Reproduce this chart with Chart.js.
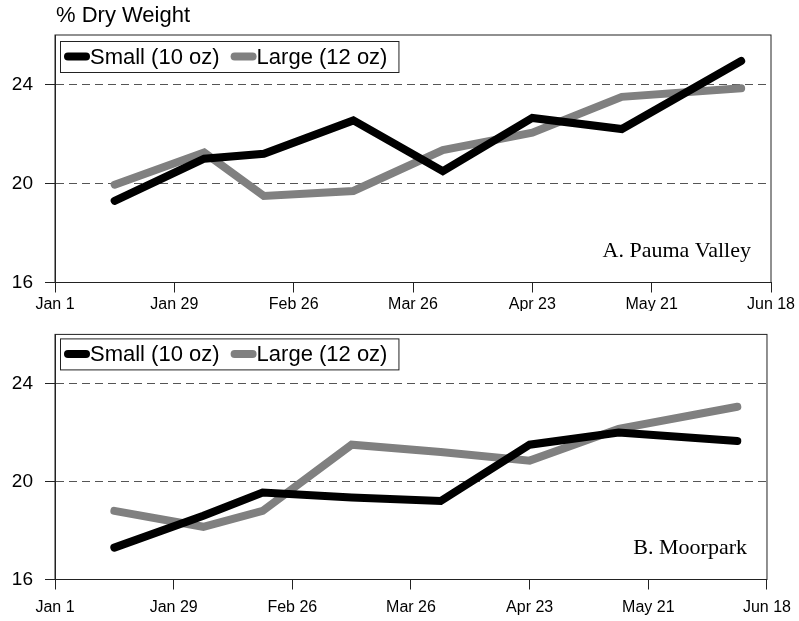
<!DOCTYPE html>
<html>
<head>
<meta charset="utf-8" />
<title>% Dry Weight</title>
<script src="https://cdn.jsdelivr.net/npm/chart.js@4.4.1/dist/chart.umd.min.js"></script>
<style>
  body { margin: 0; padding: 0; background: #fff; overflow: hidden; }
  .panel { position: absolute; left: 0; width: 799px; }
  #panelA { top: 0; height: 311px; }
  #panelB { top: 311px; height: 310px; }
</style>
</head>
<body>
<div class="panel" id="panelA"><canvas id="chartA"></canvas></div>
<div class="panel" id="panelB"><canvas id="chartB"></canvas></div>

<script>
// sample dates, as days after Jan 1
var sampleDays = [14, 35, 49, 70, 91, 112, 133, 161];
var tickDays = [0, 28, 56, 84, 112, 140, 168];
var tickLabels = ['Jan 1', 'Jan 29', 'Feb 26', 'Mar 26', 'Apr 23', 'May 21', 'Jun 18'];
var yTicks = [16, 20, 24];

var seriesNames = ['Small (10 oz)', 'Large (12 oz)'];

// A. Pauma Valley
var paumaSmall = [19.3, 21.0, 21.2, 22.55, 20.5, 22.65, 22.2, 24.95];
var paumaLarge = [19.95, 21.25, 19.5, 19.7, 21.35, 22.05, 23.5, 23.85];

// B. Moorpark
var moorSmall = [17.3, 18.6, 19.55, 19.35, 19.2, 21.5, 22.0, 21.65];
var moorLarge = [18.8, 18.15, 18.8, 21.5, 21.2, 20.85, 22.15, 23.05];

var sansFont = "'Liberation Sans', Arial, Helvetica, sans-serif";
var serifFont = "'Liberation Serif', 'Times New Roman', serif";

function pts(values) {
  return values.map(function (v, i) { return { x: sampleDays[i], y: v }; });
}

// frame, boxed legend, title and panel label
var decor = {
  id: 'decor',
  afterDraw: function (chart, args, opts) {
    var ctx = chart.ctx;
    var a = chart.chartArea;
    ctx.save();
    ctx.strokeStyle = '#222';
    ctx.lineWidth = 1;
    ctx.setLineDash([]);
    ctx.strokeRect(a.left, a.top, a.right - a.left, a.bottom - a.top);

    if (opts.title) {
      ctx.font = '22px ' + sansFont;
      ctx.fillStyle = '#000';
      ctx.textAlign = 'left';
      ctx.textBaseline = 'middle';
      ctx.fillText(opts.title, a.left + 1, 16);
    }

    // legend
    ctx.font = '22px ' + sansFont;
    ctx.textBaseline = 'middle';
    ctx.textAlign = 'left';
    var bx = a.left + 5, by = a.top + opts.legendTop, bh = 31;
    var cy = by + bh / 2;
    var x = bx + 4;
    chart.data.datasets.forEach(function (ds) {
      ctx.strokeStyle = ds.borderColor;
      ctx.lineWidth = 8;
      ctx.lineCap = 'round';
      ctx.beginPath();
      ctx.moveTo(x + 4, cy);
      ctx.lineTo(x + 22, cy);
      ctx.stroke();
      ctx.fillStyle = '#000';
      ctx.fillText(ds.label, x + 26, cy + 1);
      x = x + 26 + ctx.measureText(ds.label).width + 11;
    });
    ctx.lineCap = 'butt';
    ctx.lineWidth = 1;
    ctx.strokeStyle = '#222';
    ctx.strokeRect(bx + 0.5, by + 0.5, x - bx, bh);

    // panel label
    ctx.font = '22px ' + serifFont;
    ctx.fillStyle = '#000';
    ctx.textAlign = 'right';
    ctx.fillText(opts.label, a.right - 20, a.bottom - 31);
    ctx.restore();
  }
};

function makeChart(id, small, large, cfg) {
  return new Chart(document.getElementById(id), {
    type: 'line',
    data: {
      datasets: [
        { label: seriesNames[0], data: pts(small), borderColor: '#000', borderWidth: 8,
          pointRadius: 0, borderCapStyle: 'round', borderJoinStyle: 'miter', tension: 0 },
        { label: seriesNames[1], data: pts(large), borderColor: '#808080', borderWidth: 8,
          pointRadius: 0, borderCapStyle: 'round', borderJoinStyle: 'miter', tension: 0 }
      ]
    },
    options: {
      responsive: true,
      maintainAspectRatio: false,
      animation: false,
      events: [],
      layout: { padding: { left: 0, right: cfg.right, top: cfg.top, bottom: 0 } },
      plugins: {
        legend: { display: false },
        tooltip: { enabled: false },
        decor: { title: cfg.title, label: cfg.label, legendTop: cfg.legendTop }
      },
      scales: {
        x: {
          type: 'linear',
          min: 0,
          max: 168,
          afterBuildTicks: function (s) { s.ticks = tickDays.map(function (d) { return { value: d }; }); },
          afterFit: function (s) { s.height = cfg.xh; },
          border: { display: true, color: '#222', width: 1 },
          grid: { drawOnChartArea: false, drawTicks: true, tickLength: 10, tickColor: '#222' },
          ticks: {
            padding: cfg.xpad,
            maxRotation: 0,
            autoSkip: false,
            color: '#000',
            font: { family: sansFont, size: 16 },
            callback: function (v) { var i = tickDays.indexOf(v); return i >= 0 ? tickLabels[i] : ''; }
          }
        },
        y: {
          min: 16,
          max: 26,
          afterBuildTicks: function (s) { s.ticks = yTicks.map(function (v) { return { value: v }; }); },
          afterFit: function (s) { s.width = 55; },
          border: { display: true, color: '#222', width: 1, dash: [8, 5] },
          grid: { color: '#555', lineWidth: 1, tickLength: 10, tickColor: '#222', tickBorderDash: [] },
          ticks: {
            padding: 12,
            color: '#000',
            font: { family: sansFont, size: 19 }
          }
        }
      }
    },
    plugins: [decor]
  });
}

makeChart('chartA', paumaSmall, paumaLarge,
  { top: 35, right: 28, xh: 28.5, xpad: 2, title: '% Dry Weight', label: 'A. Pauma Valley', legendTop: 6 });
makeChart('chartB', moorSmall, moorLarge,
  { top: 22, right: 25, xh: 41.5, xpad: 8, title: '', label: 'B. Moorpark', legendTop: 4 });
</script>
</body>
</html>
